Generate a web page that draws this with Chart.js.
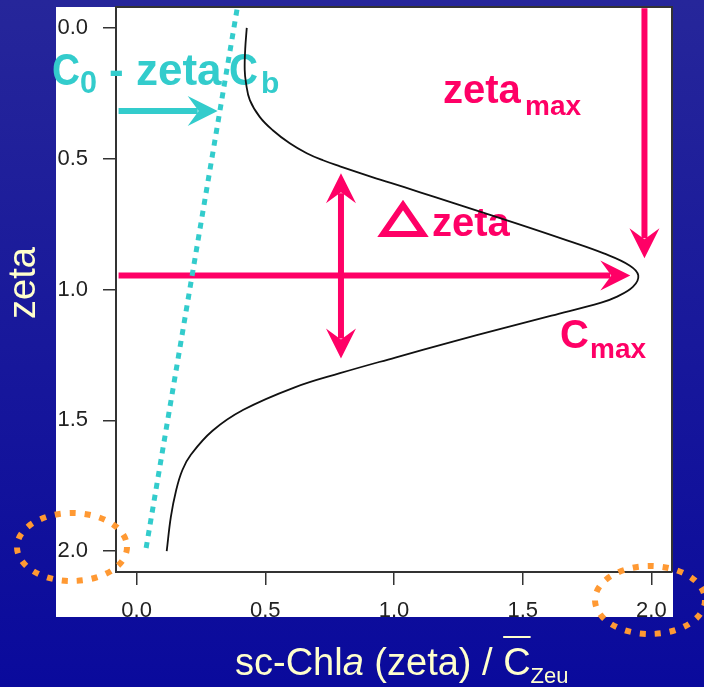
<!DOCTYPE html>
<html>
<head>
<meta charset="utf-8">
<script src="https://cdn.jsdelivr.net/npm/chart.js@4.4.1/dist/chart.umd.min.js"></script>
<style>
    html, body { margin: 0; padding: 0; background: #1a1a9a; }
    canvas { display: block; }
</style>
</head>
<body>
<canvas id="profileChart" width="704" height="687"></canvas>
<script>
// Chlorophyll profile
const zetaValues = [0.00, 0.08, 0.16, 0.21, 0.276, 0.341, 0.391, 0.441, 0.479, 0.506, 0.529, 0.571,
    0.609, 0.648, 0.686, 0.747, 0.812, 0.862, 0.908, 0.946, 0.99, 1.03, 1.05, 1.10, 1.15, 1.20,
    1.26, 1.32, 1.375, 1.46, 1.54, 1.63, 1.69, 1.77, 1.87, 2.00];
const chlValues = [0.428, 0.422, 0.420, 0.425, 0.440, 0.479, 0.529, 0.595, 0.661, 0.724, 0.790, 0.918,
    1.040, 1.163, 1.283, 1.475, 1.672, 1.815, 1.915, 1.949, 1.928, 1.860, 1.805, 1.612, 1.418, 1.225,
    1.005, 0.790, 0.612, 0.415, 0.295, 0.212, 0.178, 0.153, 0.133, 0.117];

// Background line C0 - zeta Cb
const baseZeta = [-0.07, 2.0];
const baseChl = [0.39, 0.035];

const xTicks = [0.0, 0.5, 1.0, 1.5, 2.0];
const yTicks = [0.0, 0.5, 1.0, 1.5, 2.0];

const FONT = '"Liberation Sans", Arial, Helvetica, sans-serif';
const PINK = '#ff0066';
const CYAN = '#33cccc';
const ORANGE = '#ff9933';
const PALE = '#ffffcc';

const bgGradient = (ctx) => {
    const g = ctx.createLinearGradient(0, 0, 0, 687);
    g.addColorStop(0, '#26269a');
    g.addColorStop(0.5, '#18189b');
    g.addColorStop(1, '#0a0a9c');
    return g;
};

// arrow with a notched head, tip at (x2, y2)
const drawArrow = (ctx, x1, y1, x2, y2, color, doubleHead) => {
    const ang = Math.atan2(y2 - y1, x2 - x1);
    const head = (tx, ty, a) => {
        ctx.save();
        ctx.translate(tx, ty);
        ctx.rotate(a);
        ctx.beginPath();
        ctx.moveTo(0, 0);
        ctx.lineTo(-30, -15);
        ctx.lineTo(-19, 0);
        ctx.lineTo(-30, 15);
        ctx.closePath();
        ctx.fill();
        ctx.restore();
    };
    ctx.save();
    ctx.strokeStyle = color;
    ctx.fillStyle = color;
    ctx.lineWidth = 6;
    const len = Math.hypot(x2 - x1, y2 - y1);
    const ux = (x2 - x1) / len, uy = (y2 - y1) / len;
    const sx = doubleHead ? x1 + ux * 20 : x1;
    const sy = doubleHead ? y1 + uy * 20 : y1;
    ctx.beginPath();
    ctx.moveTo(sx, sy);
    ctx.lineTo(x2 - ux * 20, y2 - uy * 20);
    ctx.stroke();
    head(x2, y2, ang);
    if (doubleHead) head(x1, y1, ang + Math.PI);
    ctx.restore();
};

const frameAndBackground = {
    id: 'frameAndBackground',
    beforeDraw(chart) {
        const ctx = chart.ctx;
        ctx.save();
        ctx.fillStyle = bgGradient(ctx);
        ctx.fillRect(0, 0, chart.width, chart.height);
        ctx.fillStyle = '#ffffff';
        ctx.fillRect(56, 7, 617, 610);
        ctx.restore();
    },
    beforeDatasetsDraw(chart) {
        const ctx = chart.ctx;
        const a = chart.chartArea;
        const xs = chart.scales.x, ys = chart.scales.y;
        const px = v => xs.getPixelForValue(v);
        const py = v => ys.getPixelForValue(v);

        ctx.save();
        // tick labels are cut by the blue band
        ctx.fillStyle = bgGradient(ctx);
        ctx.fillRect(0, 617, chart.width, chart.height - 617);

        // box top and right
        ctx.strokeStyle = '#333';
        ctx.lineWidth = 2;
        ctx.beginPath();
        ctx.moveTo(a.left, a.top);
        ctx.lineTo(a.right, a.top);
        ctx.lineTo(a.right, a.bottom);
        ctx.stroke();

        // axis titles
        ctx.fillStyle = PALE;
        ctx.textBaseline = 'alphabetic';
        ctx.save();
        ctx.translate(35, 283);
        ctx.rotate(-Math.PI / 2);
        ctx.textAlign = 'center';
        ctx.font = '38px ' + FONT;
        ctx.fillText('zeta', 0, 0);
        ctx.restore();

        ctx.textAlign = 'left';
        let tx = 235;
        const ty = 675;
        ctx.font = '38px ' + FONT;
        ctx.fillText('sc-Chl', tx, ty);
        tx += ctx.measureText('sc-Chl').width;
        ctx.font = 'italic 38px ' + FONT;
        ctx.fillText('a', tx, ty);
        tx += ctx.measureText('a').width;
        ctx.font = '38px ' + FONT;
        ctx.fillText(' (zeta) / ', tx, ty);
        tx += ctx.measureText(' (zeta) / ').width;
        ctx.fillText('C', tx, ty);
        const cw = ctx.measureText('C').width;
        ctx.fillRect(tx, 636, cw, 2);
        tx += cw;
        ctx.font = '22px ' + FONT;
        ctx.fillText('Zeu', tx, ty + 8);

        // cyan annotation
        ctx.fillStyle = CYAN;
        ctx.font = 'bold 44px ' + FONT;
        ctx.fillText('C', 52, 85, 28);
        ctx.fillText('-', 109, 85);
        ctx.fillText('zeta', 136, 85);
        ctx.fillText('C', 229, 85, 29);
        ctx.font = 'bold 32px ' + FONT;
        ctx.fillText('0', 80, 93, 17);
        ctx.font = 'bold 30px ' + FONT;
        ctx.fillText('b', 261, 93);
        drawArrow(ctx, px(-0.07), py(0.318), px(0.315), py(0.318), CYAN, false);

        // pink annotations
        ctx.fillStyle = PINK;
        ctx.font = 'bold 40px ' + FONT;
        ctx.fillText('zeta', 443, 103);
        ctx.fillText('zeta', 432, 236);
        ctx.fillText('C', 560, 348, 29);
        ctx.font = 'bold 28px ' + FONT;
        ctx.fillText('max', 525, 115);
        ctx.fillText('max', 590, 358);
        ctx.strokeStyle = PINK;
        ctx.lineWidth = 6;
        ctx.lineJoin = 'miter';
        ctx.beginPath();
        ctx.moveTo(383, 234);
        ctx.lineTo(423, 234);
        ctx.lineTo(403, 205);
        ctx.closePath();
        ctx.stroke();

        drawArrow(ctx, px(1.973), py(-0.075), px(1.973), py(0.881), PINK, false);
        drawArrow(ctx, px(-0.07), py(0.946), px(1.918), py(0.946), PINK, false);
        drawArrow(ctx, px(0.794), py(1.264), px(0.794), py(0.556), PINK, true);

        // orange dotted rings round the axis ends
        ctx.strokeStyle = ORANGE;
        ctx.lineWidth = 6;
        ctx.setLineDash([6, 9]);
        ctx.beginPath();
        ctx.ellipse(72, 547, 55, 34, 0, 0, Math.PI * 2);
        ctx.stroke();
        ctx.beginPath();
        ctx.ellipse(650, 600, 55, 34, 0, 0, Math.PI * 2);
        ctx.stroke();
        ctx.restore();
    }
};

const noPadding = s => {
    s.paddingTop = 0;
    s.paddingBottom = 0;
    s.paddingLeft = 0;
    s.paddingRight = 0;
};

const axisCommon = {
    type: 'linear',
    min: -0.08,
    max: 2.08,
    grid: { drawOnChartArea: false, tickLength: 13, color: '#333', lineWidth: 1.5 },
    border: { display: true, color: '#333', width: 2 },
    ticks: {
        color: '#222',
        font: { family: FONT, size: 22 },
        callback: v => Number(v).toFixed(1),
        autoSkip: false,
        maxRotation: 0
    }
};

new Chart(document.getElementById('profileChart').getContext('2d'), {
    type: 'scatter',
    data: {
        datasets: [
            {
                data: chlValues.map((c, i) => ({ x: c, y: zetaValues[i] })),
                showLine: true,
                borderColor: '#111',
                borderWidth: 1.8,
                pointRadius: 0,
                tension: 0.4
            },
            {
                data: baseChl.map((c, i) => ({ x: c, y: baseZeta[i] })),
                showLine: true,
                borderColor: CYAN,
                borderWidth: 5,
                borderDash: [6, 6],
                borderCapStyle: 'butt',
                pointRadius: 0
            }
        ]
    },
    options: {
        responsive: false,
        animation: false,
        devicePixelRatio: 1,
        layout: { padding: { top: 7, right: 32, left: 0, bottom: 0 } },
        scales: {
            x: {
                ...axisCommon,
                position: 'bottom',
                ticks: { ...axisCommon.ticks, padding: 13 },
                afterBuildTicks: s => { s.ticks = xTicks.map(v => ({ value: v })); },
                afterFit: s => { s.height = 115; noPadding(s); }
            },
            y: {
                ...axisCommon,
                reverse: true,
                ticks: { ...axisCommon.ticks, padding: 15 },
                afterBuildTicks: s => { s.ticks = yTicks.map(v => ({ value: v })); },
                afterFit: s => { s.width = 116; noPadding(s); }
            }
        },
        plugins: {
            legend: { display: false },
            tooltip: { enabled: false }
        }
    },
    plugins: [frameAndBackground]
});
</script>
</body>
</html>
